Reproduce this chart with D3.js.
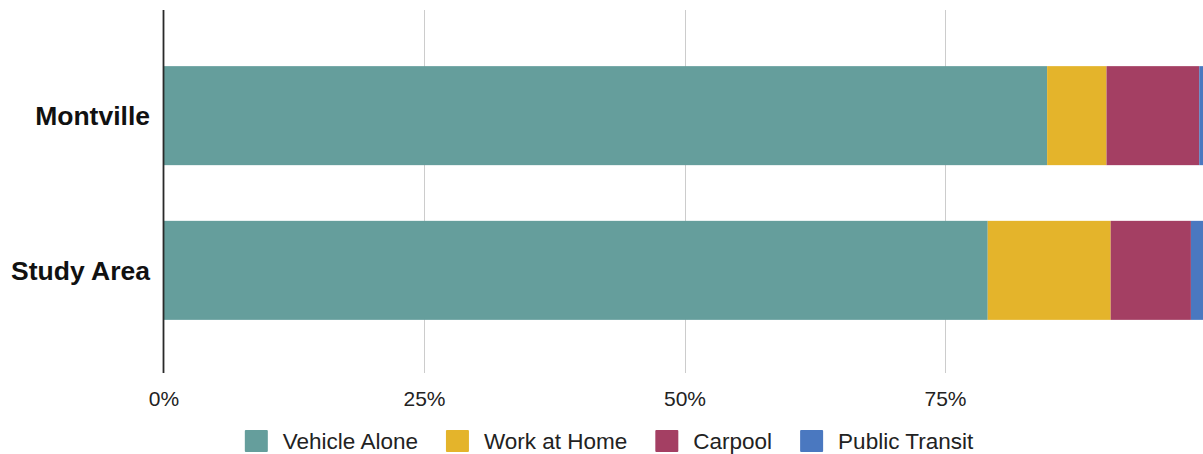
<!DOCTYPE html>
<html>
<head>
<meta charset="utf-8">
<script src="https://cdn.jsdelivr.net/npm/d3@7"></script>
<style>
  html, body { margin: 0; padding: 0; background: #fff; }
  svg { display: block; font-family: "Liberation Sans", Arial, sans-serif; }
</style>
</head>
<body>
<svg id="chart" width="1203" height="454"></svg>
<script>
// ---- data ----
const categories = ["Montville", "Study Area"];
const seriesNames = ["Vehicle Alone", "Work at Home", "Carpool", "Public Transit"];
const vehicleAlone = [84.8, 79.1];
const workAtHome = [5.7, 11.8];
const carpool = [8.9, 7.7];
const publicTransit = [0.6, 1.4];
const tickValues = [0, 25, 50, 75];
const tickLabels = ["0%", "25%", "50%", "75%"];
const colors = ["#659e9c", "#e4b42b", "#a43f63", "#4a78c0"];

const seriesValues = [vehicleAlone, workAtHome, carpool, publicTransit];
const rows = categories.map((c, i) => {
  const r = { category: c };
  seriesNames.forEach((s, j) => r[s] = seriesValues[j][i]);
  return r;
});

const svg = d3.select("#chart");
const x = d3.scaleLinear().domain([0, 100]).range([163.5, 1205.5]);
const y = d3.scaleBand().domain(categories).range([12, 374]).paddingInner(0.36).paddingOuter(0.35);
const plotTop = 10, plotBottom = 373;

// gridlines
svg.append("g").selectAll("line").data(tickValues.filter(d => d > 0)).join("line")
  .attr("x1", d => Math.round(x(d)) + 0.5).attr("x2", d => Math.round(x(d)) + 0.5)
  .attr("y1", plotTop).attr("y2", plotBottom)
  .attr("stroke", "#cccccc").attr("stroke-width", 1);

// stacked bars
const stack = d3.stack().keys(seriesNames)(rows);
svg.append("g").selectAll("g").data(stack).join("g")
  .attr("fill", (d, i) => colors[i])
  .selectAll("rect").data(d => d).join("rect")
  .attr("x", d => x(d[0]))
  .attr("width", d => x(d[1]) - x(d[0]))
  .attr("y", d => y(d.data.category))
  .attr("height", y.bandwidth());

// y axis line
svg.append("line")
  .attr("x1", 163.5).attr("x2", 163.5).attr("y1", plotTop).attr("y2", plotBottom)
  .attr("stroke", "#2a2a2a").attr("stroke-width", 1.8);

// x axis tick labels
const xAxis = d3.axisBottom(x).tickValues(tickValues)
  .tickFormat((d, i) => tickLabels[i]).tickSize(0).tickPadding(0);
const gx = svg.append("g").attr("transform", `translate(0,${plotBottom})`).call(xAxis);
gx.select(".domain").remove();
gx.selectAll("text").attr("dy", null).attr("y", 33)
  .style("font-size", "21px").style("font-family", "Liberation Sans, Arial, sans-serif")
  .attr("fill", "#222");

// y axis labels
const yAxis = d3.axisLeft(y).tickSize(0).tickPadding(0);
const gy = svg.append("g").attr("transform", "translate(150,0)").call(yAxis);
gy.select(".domain").remove();
gy.selectAll("text").attr("x", 0).attr("dy", "0.35em")
  .style("font-size", "26.5px").style("font-weight", "bold")
  .style("font-family", "Liberation Sans, Arial, sans-serif").attr("fill", "#111");

// legend
const legend = svg.append("g");
let lx = 0;
const items = legend.selectAll("g").data(seriesNames).join("g");
items.append("rect").attr("width", 23).attr("height", 22).attr("y", -11).attr("rx", 1)
  .attr("fill", (d, i) => colors[i]);
items.append("text").text(d => d).attr("x", 38).attr("dy", "0.35em")
  .style("font-size", "22.5px").attr("fill", "#222");
items.each(function () {
  const g = d3.select(this);
  g.attr("transform", `translate(${lx},441)`);
  lx += 38 + g.select("text").node().getComputedTextLength() + 28;
});
const totalW = lx - 28;
legend.attr("transform", `translate(${609 - totalW / 2},0)`);
</script>
</body>
</html>
